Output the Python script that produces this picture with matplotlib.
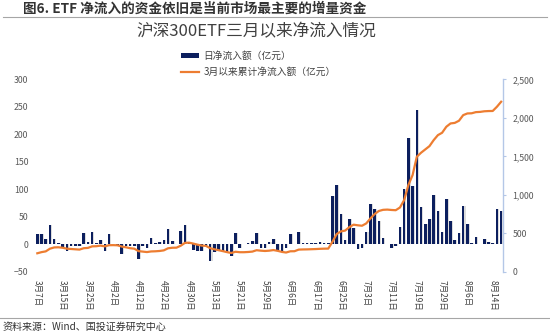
import numpy as np
import matplotlib
matplotlib.use('Agg')
import matplotlib.pyplot as plt
from matplotlib.lines import Line2D
from matplotlib.patches import Patch

plt.rcParams['font.family'] = ['Noto Sans CJK SC', 'DejaVu Sans']
plt.rcParams['axes.unicode_minus'] = True

# 沪深300ETF 每日净流入（亿元），2024-03-07 起共 111 个交易日
daily = [18, 18, 10, 35, 10, 2, -6, -12, -3, -3,
         -3, 20, 5, 22, 2, 8, -12, 19, 1, -2,
         -17, -3, -3, -4, -27, -4, -7, 11, 2, 5,
         8, 27, 6, 1, 24, 35, 2, -11, -13, -12,
         -3, -30, -14, -12, -13, -15, -22, 20, -7, 0,
         3, 6, 21, -7, -6, 5, 10, -10, -12, -7,
         19, 1, 23, 2, 2, 3, 3, 5, 3, 2,
         88, 107, 55, 8, 46, 29, -9, -7, 23, 73,
         65, 42, 11, 0, -7, -4, 31, 100, 193, 106,
         244, 67, 36, 46, 90, 61, 23, 82, 43, 8,
         21, 70, 37, 2, 14, 0, 9, 5, 2, 64,
         61]

# 3月以来累计净流入（亿元，右轴）
cumulative = [240, 255, 265, 300, 316, 318, 312, 300, 296, 292,
              288, 306, 310, 330, 332, 340, 330, 345, 346, 344,
              328, 318, 306, 300, 268, 262, 256, 264, 266, 270,
              278, 305, 312, 313, 338, 375, 378, 366, 352, 340,
              336, 306, 292, 280, 268, 255, 244, 260, 254, 254,
              257, 262, 280, 274, 270, 274, 282, 272, 258, 250,
              266, 267, 288, 290, 291, 293, 295, 298, 300, 301,
              390, 490, 525, 535, 580, 612, 604, 598, 628, 693,
              750, 790, 805, 808, 803, 800, 835, 932, 1127, 1257,
              1495, 1547, 1590, 1633, 1711, 1776, 1807, 1885, 1928, 1935,
              1963, 2036, 2058, 2060, 2075, 2078, 2086, 2089, 2090, 2145,
              2210]

# 每 6 个交易日一个标签
tick_labels = ['3月7日', '3月15日', '3月25日', '4月2日', '4月12日', '4月22日',
               '4月30日', '5月13日', '5月21日', '5月29日', '6月6日', '6月17日',
               '6月25日', '7月3日', '7月11日', '7月19日', '7月29日', '8月6日',
               '8月14日']

x = np.arange(len(daily))
tick_pos = np.arange(len(tick_labels)) * 6

fig = plt.figure(figsize=(5.5, 3.31), dpi=100)
ax = fig.add_axes([0.064, 0.179, 0.851, 0.581])

# 柱子阴影 + 柱子
ax.bar(x + 0.25, daily, width=0.6, color='#dcdcdc', zorder=1)
ax.bar(x, daily, width=0.6, color='#0c1f5e', zorder=2)

ax.set_xlim(-0.5, len(daily) - 0.5)
ax.set_ylim(-50, 300)
ax.set_yticks(range(-50, 301, 50))
ax.set_xticks(tick_pos)
ax.set_xticklabels(tick_labels, rotation=-90, fontsize=6, color='#404040')
ax.tick_params(axis='x', length=0, pad=6)
ax.tick_params(axis='y', length=0, pad=5, labelsize=6.3, labelcolor='#595959')
for s in ax.spines.values():
    s.set_visible(False)

ax2 = ax.twinx()
ax2.plot(x, cumulative, color='#ED7D31', lw=1.6, zorder=3)
ax2.set_ylim(0, 2500)
ax2.set_yticks(range(0, 2501, 500))
ax2.set_yticklabels([f'{v:,}' for v in range(0, 2501, 500)])
ax2.tick_params(axis='y', length=2.5, width=0.8, color='#b4c7e7', pad=4,
                labelsize=6.3, labelcolor='#595959')
for k, s in ax2.spines.items():
    s.set_visible(k == 'right')
ax2.spines['right'].set_color('#b4c7e7')
ax2.spines['right'].set_linewidth(1.0)

# 图例
handles = [Patch(facecolor='#0c1f5e', edgecolor='none'),
           Line2D([0], [0], color='#ED7D31', lw=1.6)]
fig.legend(handles, ['日净流入额（亿元）', '3月以来累计净流入额（亿元）'],
           loc='upper left', bbox_to_anchor=(181 / 550, 1 - 51 / 331),
           frameon=False, fontsize=7, handlelength=1.9, handleheight=0.3,
           handletextpad=0.4, labelspacing=0.6, borderpad=0, borderaxespad=0,
           labelcolor='#404040')

# 标题
fig.text(23 / 550, 1 - 9 / 331, '图6. ETF 净流入的资金依旧是当前市场最主要的增量资金',
         fontsize=9.8, weight='bold', color='#333333', va='center', ha='left')
fig.add_artist(Line2D([0.005, 0.995], [1 - 17 / 331] * 2, color='#a6a6a6', lw=0.8))
fig.text(256 / 550, 1 - 32 / 331, '沪深300ETF三月以来净流入情况',
         fontsize=12, color='#404040', va='center', ha='center')

# 资料来源
fig.add_artist(Line2D([0.0, 1.0], [1 - 318 / 331] * 2, color='#a6a6a6', lw=0.8))
fig.text(3 / 550, 1 - 327 / 331, '资料来源：Wind、国投证券研究中心',
         fontsize=7.2, style='italic', color='#333333', va='center', ha='left')

fig.savefig('out.png', dpi=100)
